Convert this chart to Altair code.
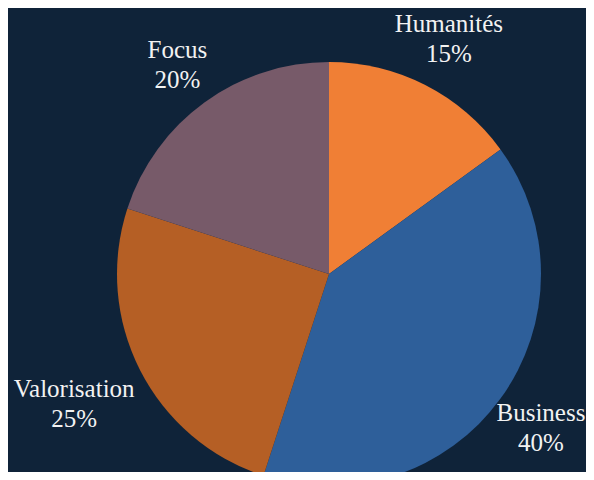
import altair as alt
import pandas as pd

categories = ["Humanités", "Business", "Valorisation", "Focus"]
shares = [15, 40, 25, 20]
labels = ["15%", "40%", "25%", "20%"]
colors = ["#f07f35", "#2e5f9a", "#b55f25", "#775a69"]

df = pd.DataFrame({
    "cat": categories,
    "value": shares,
    "pct": labels,
    "order": list(range(len(categories))),
})
df["label"] = df["cat"] + "\n" + df["pct"]

BG = "#0f2339"
CX, CY = 321, 266
theta_scale = alt.Scale(domain=[0, 100])
label_radius = {"Humanités": 264, "Business": 262, "Valorisation": 286, "Focus": 258}

pie = alt.Chart(df).mark_arc(outerRadius=212).encode(
    theta=alt.Theta("value:Q", stack=True, scale=theta_scale),
    order=alt.Order("order:Q", sort="ascending"),
    color=alt.Color("cat:N", scale=alt.Scale(domain=categories, range=colors), legend=None),
    x=alt.value(CX), y=alt.value(CY),
)

text_style = dict(font="Liberation Serif", fontSize=25, color="#f2f2f2",
                  lineBreak="\n", lineHeight=30, align="center", baseline="middle", dy=-15)

def label_layer(cat, r):
    return (
        alt.Chart(df)
        .transform_window(cum="sum(value)", sort=[{"field": "order"}])
        .transform_calculate(mid="datum.cum - datum.value / 2")
        .transform_filter(alt.datum.cat == cat)
        .mark_text(**text_style)
        .encode(
            theta=alt.Theta("mid:Q", stack=None, scale=theta_scale),
            text="label:N",
            x=alt.value(CX), y=alt.value(CY), radius=alt.value(r),
        )
    )

layers = [pie] + [label_layer(c, label_radius[c]) for c in categories]

chart = alt.layer(*layers).properties(
    width=578, height=464, padding=0, autosize="none", background=BG,
).configure_view(stroke=None)

chart.save("out.html", embed_options={"renderer": "svg", "actions": False})
